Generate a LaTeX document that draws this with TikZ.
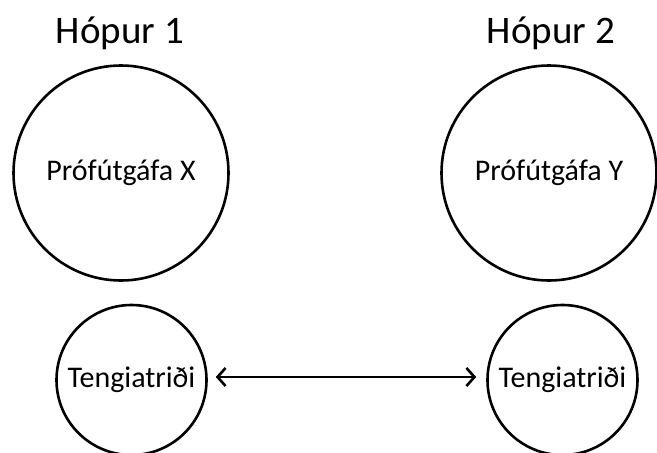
\documentclass[tikz,border=0pt]{standalone}
\usepackage{fontspec}
\setmainfont{Carlito}
\usetikzlibrary{arrows.meta}

\begin{document}
\begin{tikzpicture}[x=1pt, y=-1pt, line width=2.6pt]

\useasboundingbox (0,0) rectangle (657,453);

\tikzset{
  titill/.style={font=\fontsize{39}{44}\selectfont, anchor=base},
  utgafa/.style={draw, circle, inner sep=0pt, minimum size=215pt, font=\fontsize{30}{34}\selectfont},
  tengi/.style={draw, circle, inner sep=0pt, minimum size=150pt, font=\fontsize{30}{34}\selectfont}
}

% Group titles
\node[titill] (h1) at (120,43) {Hópur 1};
\node[titill] (h2) at (551,43) {Hópur 2};

% Test versions
\node[utgafa] (x) at (121,173) {Prófútgáfa X};
\node[utgafa] (y) at (549,173) {Prófútgáfa Y};

% Anchor items
\node[tengi] (t1) at (131.5,380) {Tengiatriði};
\node[tengi] (t2) at (562.5,380) {Tengiatriði};

% Link between the anchor items
\draw[{Straight Barb[length=8pt,width=18pt]}-{Straight Barb[length=8pt,width=18pt]}, shorten <=8pt, shorten >=10pt]
  ([yshift=3pt]t1.east) -- ([yshift=3pt]t2.west);

\end{tikzpicture}
\end{document}
